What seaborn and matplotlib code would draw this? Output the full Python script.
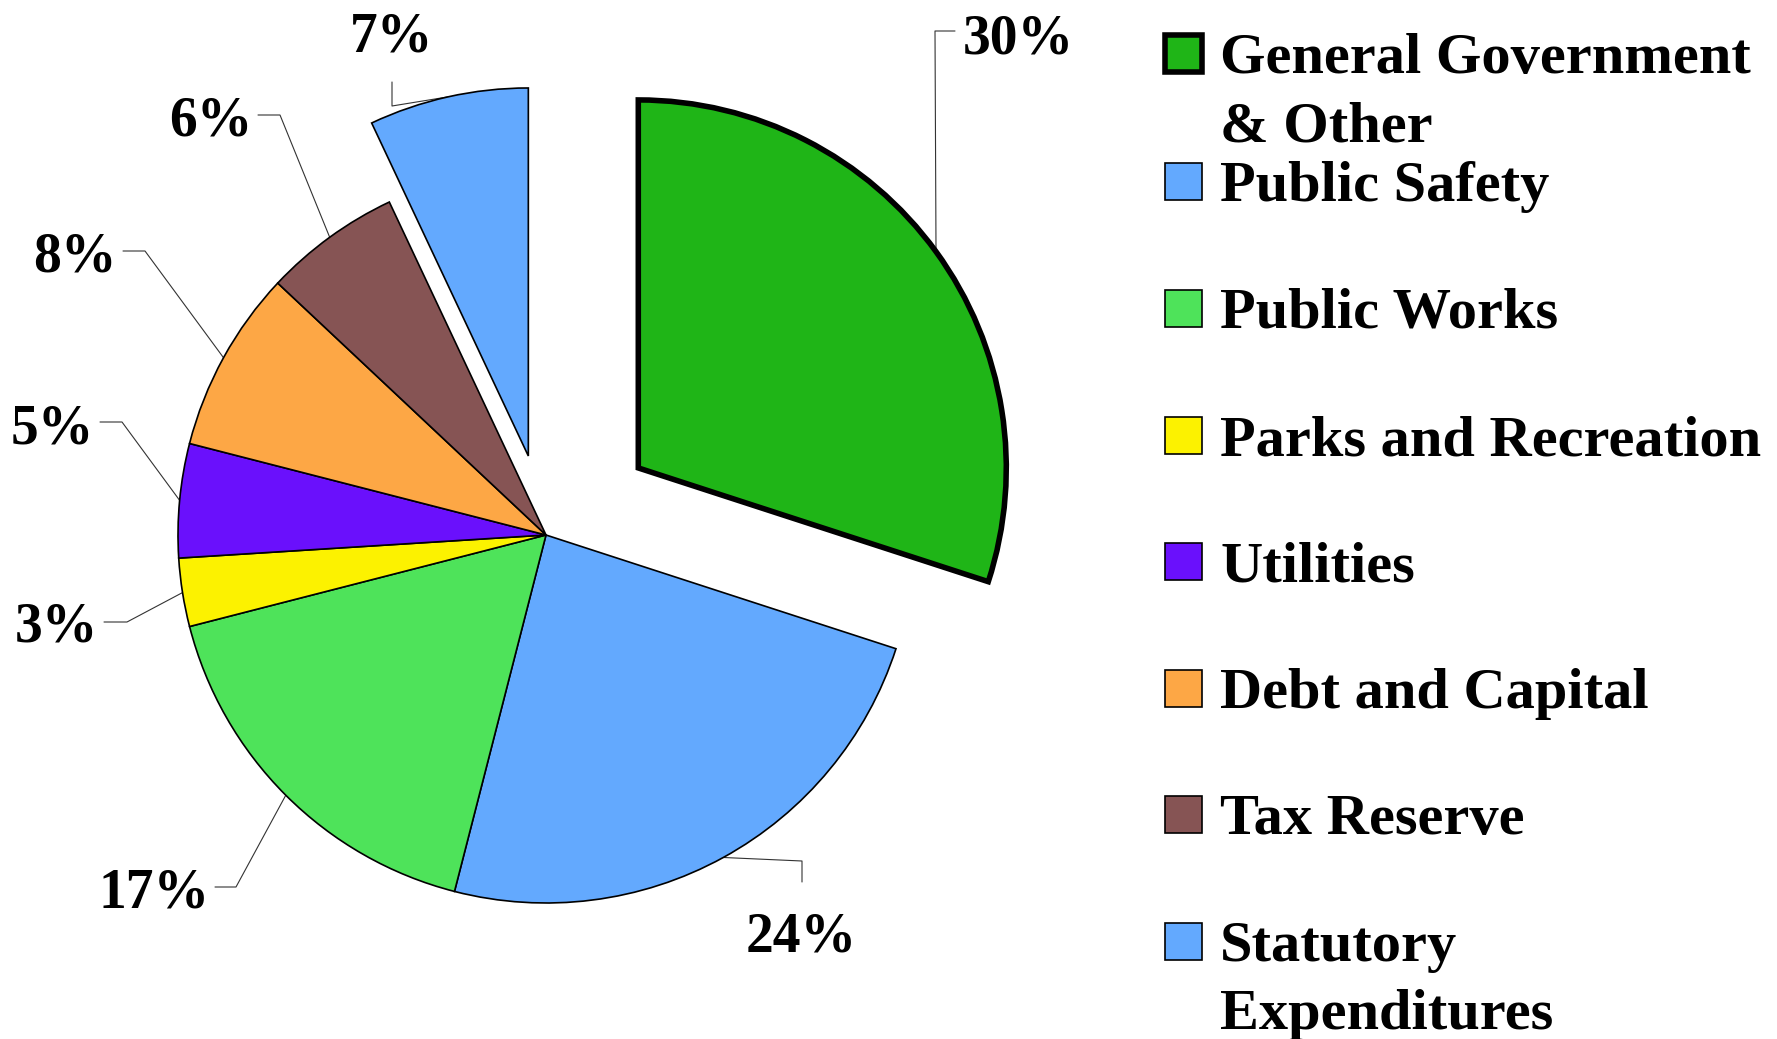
import numpy as np
import matplotlib
matplotlib.use('Agg')
import matplotlib.pyplot as plt
import seaborn as sns

# --- data ---
categories = ['General Government\n& Other', 'Public Safety', 'Public Works',
              'Parks and Recreation', 'Utilities', 'Debt and Capital',
              'Tax Reserve', 'Statutory\nExpenditures']
shares = [30, 24, 17, 3, 5, 8, 6, 7]
colors = ['#1fb517', '#63a9fe', '#4ee35a', '#fcf200', '#6a10fc', '#fda745',
          '#865454', '#63a9fe']
explode_frac = [0.31, 0, 0, 0, 0, 0, 0, 0.22]

# --- layout (pixel space, y measured from top) ---
W, H = 1777, 1039
CX, CY, R = 546, 535, 368
# label text position, elbow point and end point of each leader line
label_xy = [(1018, 53), (801, 951), (154, 908), (56, 642), (52, 443),
            (75, 272), (211, 136), (392, 52)]
elbow_xy = [(935, 31), (802, 861), (236, 887), (127, 622), (122, 422),
            (145, 251), (280, 115), (392, 106)]
end_xy = [(955, 31), (802, 882), (215, 887), (104, 622), (100, 422),
          (123, 251), (258, 115), (392, 82)]

sns.set_theme(style="white")
plt.rcParams['font.family'] = ['Liberation Serif', 'DejaVu Serif']
plt.rcParams['font.weight'] = 'bold'


def fy(y):
    return H - y


fig = plt.figure(figsize=(W / 100, H / 100), dpi=100)
ax = fig.add_axes([0, 0, 1, 1])

wedges, _ = ax.pie(shares, colors=colors, startangle=90, counterclock=False,
                   center=(CX, fy(CY)), radius=R,
                   explode=[e * R for e in explode_frac],
                   wedgeprops=dict(edgecolor='black', linewidth=1.2))
wedges[0].set_linewidth(4)

ax.set_xlim(0, W)
ax.set_ylim(0, H)
ax.set_aspect('equal')
ax.axis('off')

# percentage labels with leader lines
for w, v, txt, elb, end in zip(wedges, shares, label_xy, elbow_xy, end_xy):
    th = np.deg2rad((w.theta1 + w.theta2) / 2)
    ax0 = w.center[0] + w.r * np.cos(th)
    ay0 = w.center[1] + w.r * np.sin(th)
    ax.plot([ax0, elb[0], end[0]], [ay0, fy(elb[1]), fy(end[1])],
            color='#333333', lw=0.8, zorder=0.5)
    ax.text(txt[0], fy(txt[1]), f'{v}%', ha='center', va='baseline',
            fontsize=40, fontweight='bold', color='black')

# legend drawn in pixel space
row_y = [53, 181, 308, 435, 561, 688, 814, 941]
box = 37
for i, (lab, c, yy) in enumerate(zip(categories, colors, row_y)):
    ax.add_patch(plt.Rectangle((1165, fy(yy) - box / 2), box, box,
                               facecolor=c, edgecolor='black',
                               lw=4 if i == 0 else 1.2))
    for j, line in enumerate(lab.split('\n')):
        ax.text(1220, fy(yy + 20 + j * 68), line, ha='left', va='baseline',
                fontsize=42, fontweight='bold', color='black')

fig.savefig('out.png', dpi=100)
plt.close(fig)
